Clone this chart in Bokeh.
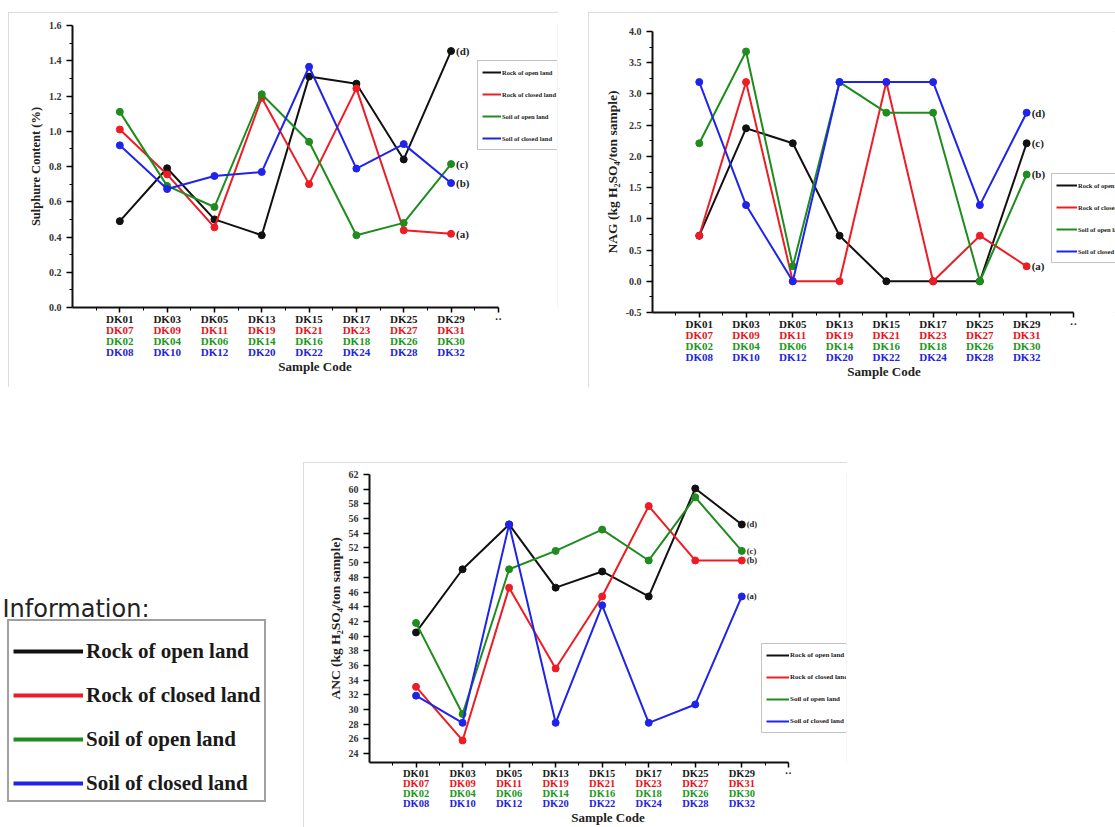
from bokeh.plotting import figure
from bokeh.models import (Range1d, FixedTicker, LinearAxis, Legend, LegendItem,
                          Label, PrintfTickFormatter, ColumnDataSource, Spacer)
from bokeh.layouts import row, column
from bokeh.embed import file_html
from bokeh.resources import INLINE
from bokeh.core.properties import value

# ------------------------------------------------------------------ data
positions = [1, 2, 3, 4, 5, 6, 7, 8]
codes_rock_open = ["DK01", "DK03", "DK05", "DK13", "DK15", "DK17", "DK25", "DK29"]
codes_rock_closed = ["DK07", "DK09", "DK11", "DK19", "DK21", "DK23", "DK27", "DK31"]
codes_soil_open = ["DK02", "DK04", "DK06", "DK14", "DK16", "DK18", "DK26", "DK30"]
codes_soil_closed = ["DK08", "DK10", "DK12", "DK20", "DK22", "DK24", "DK28", "DK32"]
series_names = ["Rock of open land", "Rock of closed land",
                "Soil of open land", "Soil of closed land"]

# Sulphure content (%)
sulphur_rock_open = [0.49, 0.79, 0.50, 0.41, 1.31, 1.27, 0.84, 1.455]
sulphur_rock_closed = [1.01, 0.755, 0.455, 1.19, 0.70, 1.243, 0.438, 0.418]
sulphur_soil_open = [1.11, 0.69, 0.57, 1.21, 0.94, 0.41, 0.48, 0.814]
sulphur_soil_closed = [0.92, 0.672, 0.746, 0.769, 1.366, 0.788, 0.927, 0.706]
sulphur_tags = ["(d)", "(a)", "(c)", "(b)"]

# NAG (kg H2SO4 / ton sample)
nag_rock_open = [0.73, 2.45, 2.21, 0.73, 0.0, 0.0, 0.0, 2.21]
nag_rock_closed = [0.73, 3.19, 0.0, 0.0, 3.19, 0.0, 0.73, 0.24]
nag_soil_open = [2.21, 3.68, 0.24, 3.19, 2.70, 2.70, 0.0, 1.71]
nag_soil_closed = [3.19, 1.22, 0.0, 3.19, 3.19, 3.19, 1.22, 2.70]
nag_tags = ["(c)", "(a)", "(b)", "(d)"]

# ANC (kg H2SO4 / ton sample)
anc_rock_open = [40.5, 49.1, 55.2, 46.6, 48.8, 45.4, 60.1, 55.2]
anc_rock_closed = [33.1, 25.8, 46.6, 35.6, 45.4, 57.7, 50.3, 50.3]
anc_soil_open = [41.8, 29.4, 49.1, 51.6, 54.5, 50.3, 58.9, 51.6]
anc_soil_closed = [31.9, 28.2, 55.2, 28.2, 44.2, 28.2, 30.7, 45.4]
anc_tags = ["(d)", "(b)", "(c)", "(a)"]

sulphur_ticks = [0.0, 0.2, 0.4, 0.6, 0.8, 1.0, 1.2, 1.4, 1.6]
sulphur_minor = [0.1, 0.3, 0.5, 0.7, 0.9, 1.1, 1.3, 1.5]
nag_ticks = [-0.5, 0.0, 0.5, 1.0, 1.5, 2.0, 2.5, 3.0, 3.5, 4.0]
nag_minor = [-0.25, 0.25, 0.75, 1.25, 1.75, 2.25, 2.75, 3.25, 3.75]
anc_ticks = list(range(24, 63, 2))

# ------------------------------------------------------------------ style
SERIF = "Liberation Serif"
LINE_COLORS = ["#111111", "#ee1c24", "#1e8c1e", "#1f24ea"]
CODE_COLORS = ["#1a1a1a", "#e8141c", "#1d971d", "#2424dc"]
code_lists = [codes_rock_open, codes_rock_closed, codes_soil_open, codes_soil_closed]


def build_chart(width, height, borders, x_end, y_range, y_ticks, y_minor, y_fmt,
                y_label, y_label_size, values, tags, legend_xy, legend_font,
                legend_glyph_w, tag_size, code_size):
    left, right, top, bottom = borders
    p = figure(width=width, height=height, x_range=Range1d(0, x_end),
               y_range=Range1d(*y_range), x_axis_type=None, y_axis_type=None,
               output_backend="svg", toolbar_location=None,
               min_border_left=left, min_border_right=right,
               min_border_top=top, min_border_bottom=bottom,
               outline_line_color=None, background_fill_color="white",
               border_fill_color="white",
               styles={"outline": "1px solid #d2d2d2", "outline-offset": "-1px"})

    yax = LinearAxis(ticker=FixedTicker(ticks=y_ticks, minor_ticks=y_minor),
                     formatter=PrintfTickFormatter(format=y_fmt),
                     axis_label=y_label,
                     axis_line_width=2, axis_line_color="#111111",
                     major_tick_line_width=1.5, major_tick_out=6, major_tick_in=0,
                     minor_tick_out=3, minor_tick_in=0,
                     major_label_standoff=5,
                     major_label_text_font=SERIF, major_label_text_font_style="bold",
                     major_label_text_font_size="10px", major_label_text_color="#333333",
                     axis_label_text_font=SERIF, axis_label_text_font_style="bold",
                     axis_label_text_font_size=y_label_size,
                     axis_label_text_color="#222222", axis_label_standoff=3)
    p.add_layout(yax, "left")

    xticker = FixedTicker(ticks=positions + [9],
                          minor_ticks=[x - 0.5 for x in positions] + [8.5])
    for i, (codes, color) in enumerate(zip(code_lists, CODE_COLORS)):
        overrides = {pos: c for pos, c in zip(positions, codes)}
        overrides[9] = "··" if i == 0 else ""
        ax = LinearAxis(ticker=xticker, bounds=(0, 9),
                        major_label_overrides=overrides,
                        major_label_text_color=color, major_label_text_font=SERIF,
                        major_label_text_font_style="bold",
                        major_label_text_font_size=code_size)
        if i == 0:
            ax.axis_line_width = 2
            ax.axis_line_color = "#111111"
            ax.major_tick_line_width = 1.5
            ax.major_tick_out = 5
            ax.major_tick_in = 0
            ax.minor_tick_out = 3
            ax.minor_tick_in = 0
            ax.major_label_standoff = 0
        else:
            ax.axis_line_color = None
            ax.major_tick_line_color = None
            ax.minor_tick_line_color = None
            ax.major_tick_out = 0
            ax.major_tick_in = 0
            ax.minor_tick_out = 0
            ax.minor_tick_in = 0
            ax.major_label_standoff = -4
        if i == 3:
            ax.axis_label = "Sample Code"
            ax.axis_label_text_font = SERIF
            ax.axis_label_text_font_style = "bold"
            ax.axis_label_text_font_size = "13px"
            ax.axis_label_text_color = "#222222"
            ax.axis_label_standoff = -2
        p.add_layout(ax, "below")

    line_rs = []
    for vals, color in zip(values, LINE_COLORS):
        src = ColumnDataSource(dict(x=positions, y=vals))
        r = p.line(x="x", y="y", source=src, line_color=color, line_width=2)
        p.scatter(x="x", y="y", source=src, size=7, fill_color=color, line_color=color)
        line_rs.append(r)

    tag_src = ColumnDataSource(dict(x=[positions[-1]] * len(values),
                                    y=[v[-1] for v in values], t=tags))
    p.text(x="x", y="y", text="t", source=tag_src, x_offset=5,
           text_baseline="middle", text_align="left", text_font=value(SERIF),
           text_font_style="bold", text_font_size=tag_size, text_color="#222222")

    legend = Legend(items=[LegendItem(label=n, renderers=[r])
                           for n, r in zip(series_names, line_rs)],
                    location=legend_xy, orientation="vertical",
                    label_text_font=SERIF, label_text_font_style="bold",
                    label_text_font_size=legend_font, label_text_color="#222222",
                    glyph_width=legend_glyph_w, glyph_height=14, label_height=14,
                    spacing=8, padding=4, margin=0, label_standoff=1,
                    border_line_color="#888888", border_line_width=1,
                    background_fill_color="white", background_fill_alpha=1.0)
    p.add_layout(legend)
    return p


p1 = build_chart(550, 375, (64, 1, 13, 80), 10.25, (0, 1.6), sulphur_ticks,
                 sulphur_minor, "%.1f", "Sulphure Content (%)", "12.5px",
                 [sulphur_rock_open, sulphur_rock_closed, sulphur_soil_open, sulphur_soil_closed],
                 sulphur_tags, (405, 157), "6.5px", 19, "11px", "11px")

p2 = build_chart(527, 375, (64, 0, 19, 75), 9.9, (-0.5, 4.0), nag_ticks, nag_minor,
                 "%.1f", "NAG (kg H₂SO₄/ton sample)", "13.5px",
                 [nag_rock_open, nag_rock_closed, nag_soil_open, nag_soil_closed],
                 nag_tags, (399, 49), "6.5px", 21, "11px", "11px")

p3 = build_chart(544, 365, (66, 1, 12, 65), 10.25, (22.8, 62), anc_ticks, [],
                 "%d", "ANC (kg H₂SO₄/ton sample)", "13.5px",
                 [anc_rock_open, anc_rock_closed, anc_soil_open, anc_soil_closed],
                 anc_tags, (392, 29), "7px", 23, "8.5px", "10.5px")

# ------------------------------------------------------------------ information box
info = figure(width=303, height=235, x_range=Range1d(-20, -19), y_range=Range1d(0, 1),
              x_axis_type=None, y_axis_type=None, output_backend="svg",
              toolbar_location=None, min_border=0, outline_line_color=None,
              background_fill_color="white", border_fill_color="white")
info_values = [anc_rock_open, anc_rock_closed, anc_soil_open, anc_soil_closed]
info_rs = [info.line(x=positions, y=v, line_color=c, line_width=4)
           for v, c in zip(info_values, LINE_COLORS)]
info.add_layout(Label(x=2, y=219, x_units="screen", y_units="screen",
                      text="Information:", text_font="DejaVu Sans",
                      text_font_size="24px", text_color="#222222",
                      text_baseline="alphabetic"))
info_legend = Legend(items=[LegendItem(label=n, renderers=[r])
                            for n, r in zip(series_names, info_rs)],
                     location=(7, 25), label_text_font=SERIF,
                     label_text_font_style="bold", label_text_font_size="21px",
                     label_text_color="#1a1a1a", glyph_width=70, glyph_height=26,
                     label_height=26, spacing=18, padding=4, margin=0,
                     title=" ", title_text_font_size="8px", title_standoff=4,
                     label_standoff=3, border_line_color="#444444",
                     border_line_width=2, background_fill_color="white",
                     background_fill_alpha=1.0)
info.add_layout(info_legend)

layout = column(
    Spacer(height=12),
    row(Spacer(width=8), column(p1), Spacer(width=30), column(p2)),
    Spacer(height=75),
    row(column(Spacer(height=130), info), column(p3)),
)

open("out.html", "w").write(file_html(layout, INLINE))
